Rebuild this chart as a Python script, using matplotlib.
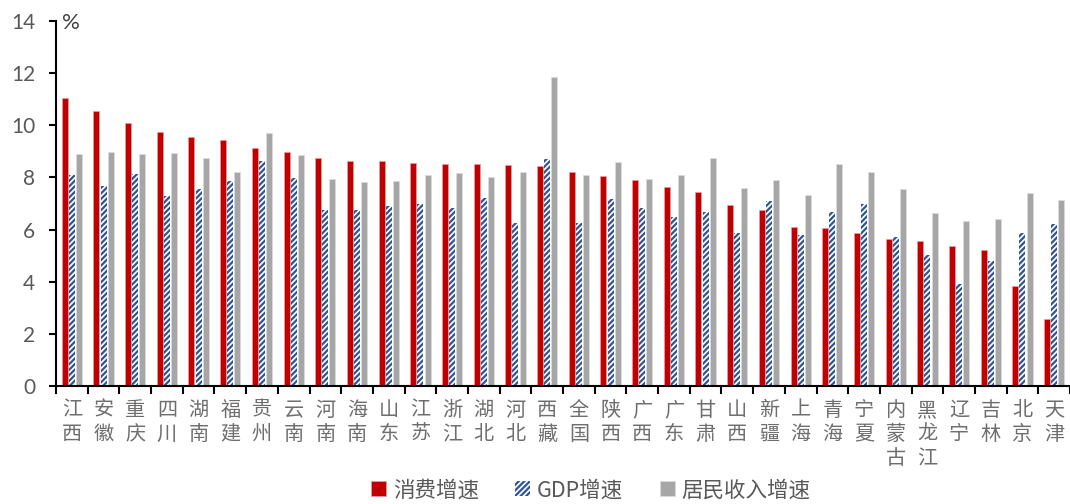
import matplotlib
matplotlib.use("Agg")
import matplotlib.pyplot as plt
import numpy as np

categories = ["江西", "安徽", "重庆", "四川", "湖南", "福建", "贵州", "云南", "河南", "海南",
              "山东", "江苏", "浙江", "湖北", "河北", "西藏", "全国", "陕西", "广西", "广东",
              "甘肃", "山西", "新疆", "上海", "青海", "宁夏", "内蒙古", "黑龙江", "辽宁", "吉林",
              "北京", "天津"]
consumption = [11.03, 10.55, 10.08, 9.74, 9.55, 9.42, 9.13, 8.96, 8.76, 8.63,
               8.62, 8.55, 8.53, 8.50, 8.46, 8.44, 8.20, 8.06, 7.90, 7.65,
               7.45, 6.95, 6.76, 6.10, 6.05, 5.87, 5.64, 5.56, 5.36, 5.22,
               3.84, 2.57]
gdp = [8.09, 7.67, 8.13, 7.29, 7.56, 7.86, 8.63, 7.99, 6.75, 6.74,
       6.90, 6.98, 6.83, 7.21, 6.25, 8.70, 6.25, 7.17, 6.83, 6.48,
       6.66, 5.86, 7.11, 5.80, 6.66, 6.98, 5.70, 5.04, 3.90, 4.79,
       5.87, 6.21]
income = [8.89, 8.96, 8.90, 8.92, 8.76, 8.22, 9.72, 8.85, 7.94, 7.83,
          7.88, 8.09, 8.17, 8.02, 8.21, 11.87, 8.11, 8.59, 7.95, 8.09,
          8.76, 7.60, 7.90, 7.33, 8.53, 8.21, 7.54, 6.65, 6.32, 6.42,
          7.39, 7.13]
series_names = ["消费增速", "GDP增速", "居民收入增速"]
yticks = [0, 2, 4, 6, 8, 10, 12, 14]

plt.rcParams['font.family'] = ['Noto Sans CJK SC', 'DejaVu Sans']
plt.rcParams['hatch.linewidth'] = 1.6

fig = plt.figure(figsize=(10.7, 5.04), dpi=100)
ax = fig.add_axes([56 / 1070, (504 - 386) / 504, 1014 / 1070, 365 / 504])

x = np.arange(len(categories))
w = 0.19
off = 0.225
red = '#C00000'
blue = '#2F5597'
gray = '#A6A6A6'

b1 = ax.bar(x - off, consumption, w, color=red, edgecolor='#E8A0A0', linewidth=0.5, label=series_names[0])
b2 = ax.bar(x, gdp, w, color='white', edgecolor=blue, hatch='//////', linewidth=0, label=series_names[1])
b3 = ax.bar(x + off, income, w, color=gray, edgecolor='#DDDDDD', linewidth=0.5, label=series_names[2])

ax.set_xlim(-0.5, len(categories) - 0.5)
ax.set_ylim(0, 14)
ax.set_yticks(yticks)
ax.set_yticklabels([str(v) for v in yticks], fontsize=15, color='#595959', family=['Lato', 'DejaVu Sans'])

# x tick marks at boundaries, labels at centers
ax.set_xticks(np.arange(len(categories) + 1) - 0.5)
ax.set_xticklabels([])
ax.set_xticks(x, minor=True)
ax.set_xticklabels(['\n'.join(c) for c in categories], minor=True, fontsize=14.5,
                   color='#6E6E6E', linespacing=1.2)
ax.tick_params(axis='x', which='major', direction='out', length=6, width=1.5, color='black')
ax.tick_params(axis='x', which='minor', length=0, pad=10)
ax.tick_params(axis='y', direction='out', length=5, width=1.5, color='black', pad=10)

for s in ['top', 'right']:
    ax.spines[s].set_visible(False)
for s in ['left', 'bottom']:
    ax.spines[s].set_linewidth(1.5)
    ax.spines[s].set_color('black')

ax.text(0.006, 0.995, '%', transform=ax.transAxes, fontsize=16, color='#404040',
        va='center', ha='left', family=['Lato', 'DejaVu Sans'])

leg = fig.legend(handles=[b1, b2, b3], labels=series_names, loc='center',
                 bbox_to_anchor=(0.552, 0.027), ncol=3, frameon=False, fontsize=15.5,
                 handlelength=0.7, handleheight=0.7, handletextpad=0.3, columnspacing=1.7,
                 labelcolor='#595959')

fig.savefig('out.png', dpi=100)
